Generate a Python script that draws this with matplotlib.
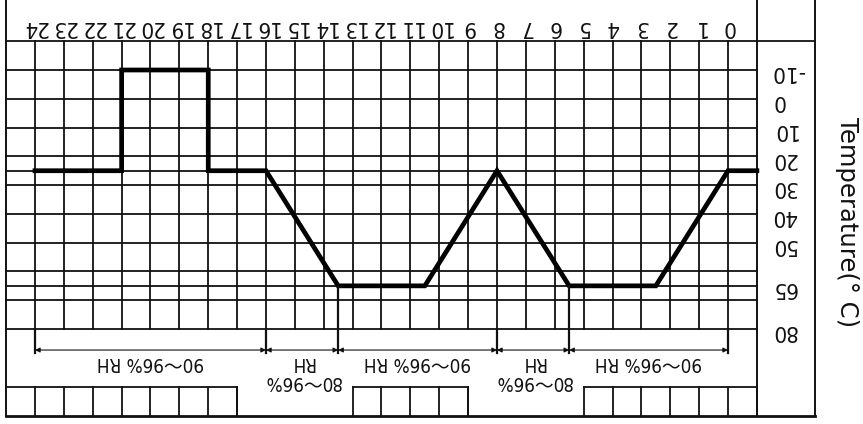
import matplotlib
matplotlib.use('Agg')
import matplotlib.pyplot as plt

# hours of the cycle and the temperature at those hours
hours = [-1, 0, 2.5, 5.5, 8, 10.5, 13.5, 16, 18, 18, 21, 21, 24]
temps = [25, 25, 65, 65, 25, 65, 65, 25, 25, -10, -10, 25, 25]

hour_ticks = list(range(0, 25))
temp_ticks = [-10, 0, 10, 20, 30, 40, 50, 65, 80]
temp_grid = [-10, 0, 10, 20, 25, 30, 40, 50, 60, 65, 70, 80]

# humidity stages: start hour, end hour, label
rh_start = [24, 16, 13.5, 8, 5.5]
rh_end = [16, 13.5, 8, 5.5, 0]
rh_text = ['90～96% RH', '80～96%', '90～96% RH', '80～96%', '90～96% RH']
rh_drop = [80, 80, 65, 80, 65, 80]      # where the marker lines start
rh_drop_h = [24, 16, 13.5, 8, 5.5, 0]

# cells of the bottom strip
strip_from = [25, 13, 5]
strip_to = [17, 9, -1]

fam = ['DejaVu Sans', 'Noto Sans CJK SC']
col = '#111111'

fig = plt.figure(figsize=(8.63, 4.24), dpi=100)
ax = fig.add_axes([0, 0, 1, 1])
ax.axis('off')
# pixel x = 728 - 28.875*h, pixel y = 70 + 2.878*(T+10)
ax.set_xlim(728 / 28.875, (728 - 863) / 28.875)
ax.set_ylim((424 - 70) / 2.878 - 10, (0 - 70) / 2.878 - 10)

bottom = (416 - 70) / 2.878 - 10
top = -35

# frame
ax.plot([25, 25], [top, bottom], color=col, lw=1.4)
ax.plot([-1, -1], [top, bottom], color=col, lw=1.4)
ax.plot([-3, -3], [top, bottom], color=col, lw=1.4)
ax.plot([25, -3], [bottom, bottom], color=col, lw=2)
ax.plot([25, -3], [-20, -20], color=col, lw=1.3)

# grid
for h in hour_ticks:
    ax.plot([h, h], [-20, 80], color=col, lw=1.3)
for t in temp_grid:
    ax.plot([25, -1], [t, t], color=col, lw=1.3)

# bottom strip
for a, b in zip(strip_from, strip_to):
    ax.plot([a, b], [100, 100], color=col, lw=1.3)
    for h in range(int(b), int(a) + 1):
        if -1 < h < 25:
            ax.plot([h, h], [100, bottom], color=col, lw=1.3)
    ax.plot([b, b], [100, bottom], color=col, lw=1.3)

# temperature curve
ax.plot(hours, temps, color='black', lw=3.4, solid_joinstyle='miter')

# humidity marks
for h, t in zip(rh_drop_h, rh_drop):
    ax.plot([h, h], [t, 88.5], color=col, lw=1.6)
arrow_y = 87.3
for a, b, s in zip(rh_start, rh_end, rh_text):
    ax.annotate('', xy=(b, arrow_y), xytext=(a, arrow_y),
                arrowprops=dict(arrowstyle='<|-|>', lw=0.8, color=col,
                                mutation_scale=7, shrinkA=0, shrinkB=0))
    mid = (a + b) / 2
    if 'RH' in s:
        ax.text(mid, 91.8, s, rotation=180, ha='center', va='center',
                fontsize=13.5, family=fam, color=col, fontstretch='condensed')
    else:
        ax.text(mid, 91.8, 'RH', rotation=180, ha='center', va='center',
                fontsize=13.5, family=fam, color=col, fontstretch='condensed')
        ax.text(mid, 98.4, s, rotation=180, ha='center', va='center',
                fontsize=13.5, family=fam, color=col, fontstretch='condensed')

# tick labels (the sheet is upside down)
for h in hour_ticks:
    ax.text(h, -25, str(h), rotation=180, ha='center', va='center',
            fontsize=16, family=fam, color=col, fontstretch='condensed')
for t in temp_ticks:
    ax.text(-1.5, t + 0.8, str(t), rotation=180, ha='left', va='center',
            fontsize=16, family=fam, color=col, fontstretch='condensed')

ax.text(-4.12, 42.8, 'Temperature(° C)', rotation=270, ha='center', va='center',
        fontsize=17.5, family=['DejaVu Sans'], color=col)

fig.savefig('out.png', dpi=100)
